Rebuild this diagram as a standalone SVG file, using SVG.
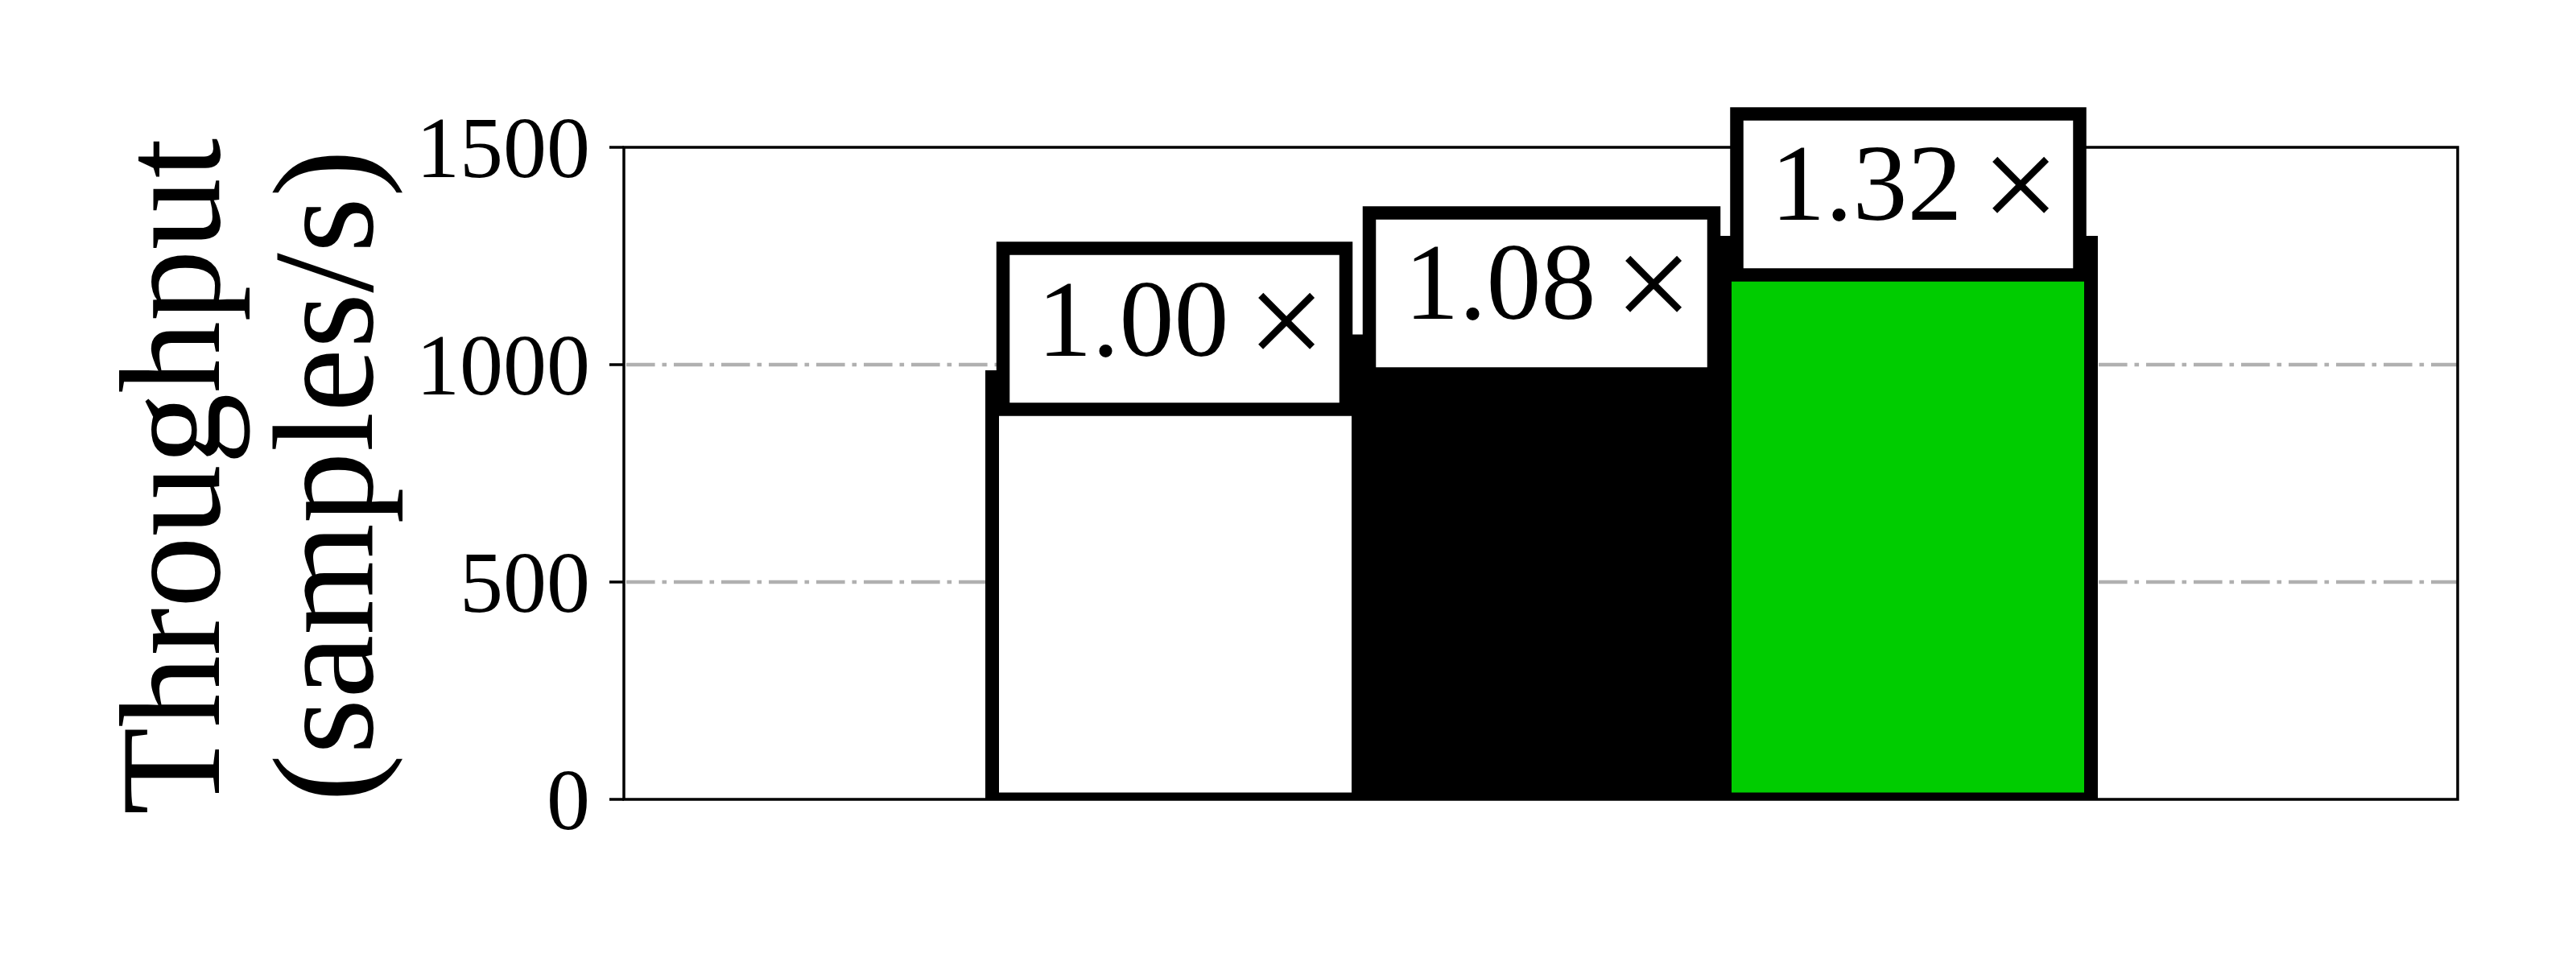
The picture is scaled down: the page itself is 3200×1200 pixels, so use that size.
<svg xmlns="http://www.w3.org/2000/svg" width="3200" height="1200" viewBox="0 0 3200 1200">
<defs>
<style>
.tick{font-family:"Liberation Serif","Times New Roman",serif;font-size:108px;fill:#000;text-anchor:end}
.ylab{font-family:"Liberation Serif","Times New Roman",serif;font-size:178px;fill:#000;text-anchor:middle}
.grid{stroke:#b0b0b0;stroke-width:4.5;stroke-dasharray:35.6 8.9 5.6 8.9;fill:none}
.bar{stroke:#000;stroke-width:17}
.box{fill:#fff;stroke:#000;stroke-width:16.5}
.lbl{font-family:"Liberation Serif","Times New Roman",serif;font-size:136px;fill:#000;text-anchor:middle}
.times{font-size:172px}
.tk{stroke:#000;stroke-width:3.5}
</style>
<clipPath id="ax"><rect x="775" y="183" width="2278" height="810"/></clipPath>
</defs>
<rect width="3200" height="1200" fill="#fff"/>
<g id="grid">
<line class="grid" x1="778" y1="453" x2="3053" y2="453"/>
<line class="grid" x1="778" y1="723" x2="3053" y2="723"/>
</g>
<g id="bars" clip-path="url(#ax)">
<rect id="bar1" class="bar" x="1232.5" y="468.5" width="455" height="524.5" fill="#ffffff"/>
<rect id="bar2" class="bar" x="1687.5" y="424" width="455" height="569" fill="#000000"/>
<rect id="bar3" class="bar" x="2142.5" y="301.5" width="455" height="691.5" fill="#00cc00"/>
</g>
<g id="axes">
<rect x="775" y="183" width="2278" height="810" fill="none" stroke="#000" stroke-width="3.5"/>
<line class="tk" x1="757" y1="183" x2="775" y2="183"/>
<line class="tk" x1="757" y1="453" x2="775" y2="453"/>
<line class="tk" x1="757" y1="723" x2="775" y2="723"/>
<line class="tk" x1="757" y1="993" x2="775" y2="993"/>
<text class="tick" x="733" y="220">1500</text>
<text class="tick" x="733" y="490">1000</text>
<text class="tick" x="733" y="760">500</text>
<text class="tick" x="733" y="1030">0</text>
<text class="ylab" transform="translate(272,592) rotate(-90)">Throughput</text>
<text class="ylab" transform="translate(462,591) rotate(-90)">(samples/s)</text>
</g>
<g id="label1">
<rect class="box" x="1246" y="308.5" width="426" height="200"/>
<text class="lbl" y="442"><tspan x="1407.5">1.00</tspan><tspan class="times" x="1598" y="456">×</tspan></text>
</g>
<g id="label2">
<rect class="box" x="1701" y="264.5" width="428" height="200"/>
<text class="lbl" y="396"><tspan x="1863.5">1.08</tspan><tspan class="times" x="2054" y="410">×</tspan></text>
</g>
<g id="label3">
<rect class="box" x="2157.5" y="141.5" width="426" height="200"/>
<text class="lbl" y="273"><tspan x="2318.5">1.32</tspan><tspan class="times" x="2510" y="287">×</tspan></text>
</g>
<g id="connectors"/>
</svg>
